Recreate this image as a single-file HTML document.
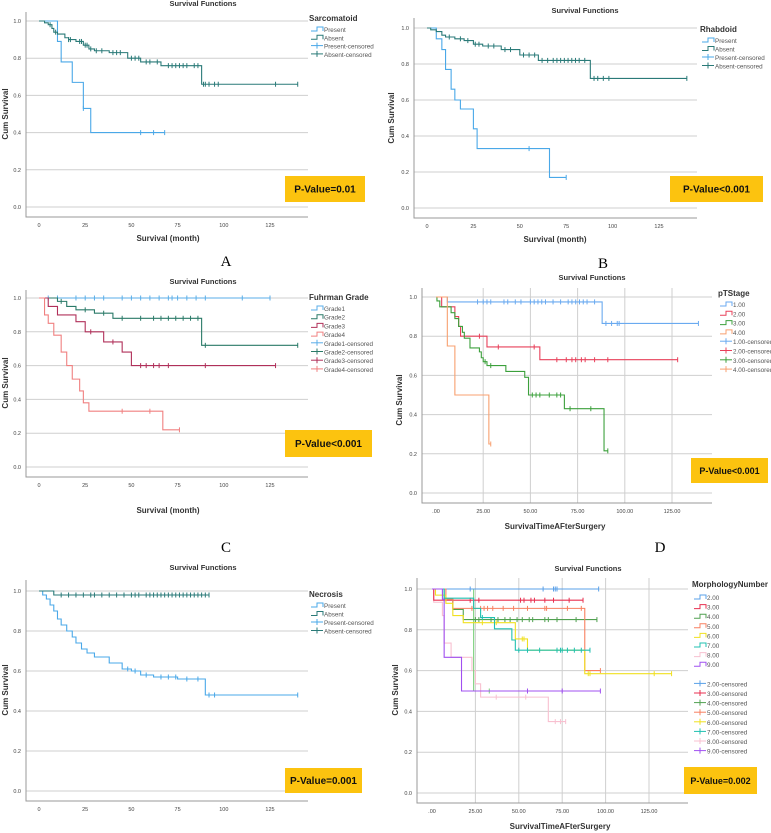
<!DOCTYPE html>
<html><head><meta charset="utf-8"><style>
body{margin:0;background:#fff}
svg{display:block;font-family:"Liberation Sans",sans-serif}
</style></head><body>
<svg id="fig" width="771" height="833" viewBox="0 0 771 833" xmlns="http://www.w3.org/2000/svg"></svg>
<script>
// ---------- data (step drop times, survival after each drop, censor times) ----------
const aPresentT=[10,12,18,24,28];
const aPresentS=[0.89,0.78,0.67,0.53,0.40];
const aPresentC=[24,55,62,68];
const aAbsentT=[3,5,7,8,10,14,16,20,24,27,30,38,48,55,66,88];
const aAbsentS=[0.99,0.98,0.96,0.94,0.93,0.91,0.90,0.89,0.87,0.85,0.84,0.83,0.80,0.78,0.76,0.66];
const aAbsentC=[6,9,16,17,22,23,25,26,28,31,34,40,42,44,50,52,54,58,60,64,70,72,74,76,78,80,84,86,89,90,92,95,97,128,140];

const bPresentT=[5,8,10,13,15,18,25,27,66];
const bPresentS=[0.94,0.88,0.77,0.66,0.60,0.55,0.44,0.33,0.17];
const bPresentC=[55,75];
const bAbsentT=[2,5,8,10,15,20,25,30,40,50,60,88];
const bAbsentS=[0.99,0.98,0.96,0.95,0.94,0.93,0.91,0.90,0.88,0.85,0.82,0.72];
const bAbsentC=[12,18,22,26,28,33,36,42,45,52,55,58,62,65,68,70,72,74,76,78,80,82,85,90,92,95,98,140];

const cG1T=[]; const cG1S=[]; const cG1C=[5,10,20,25,30,35,45,50,55,60,65,70,72,75,80,85,90,110,125];
const cG2T=[10,15,20,30,40,88]; const cG2S=[0.98,0.95,0.93,0.91,0.88,0.72];
const cG2C=[12,25,35,45,55,62,66,70,74,78,82,86,90,140];
const cG3T=[5,10,20,25,35,45,50]; const cG3S=[0.95,0.90,0.86,0.80,0.74,0.68,0.60];
const cG3C=[28,40,55,58,62,65,70,90,128];
const cG4T=[3,5,8,12,15,18,22,24,27,67]; const cG4S=[0.90,0.85,0.78,0.68,0.60,0.52,0.45,0.38,0.33,0.22];
const cG4C=[45,60,76];

const dT1T=[6,88]; const dT1S=[0.975,0.865];
const dT1C=[22,25,27,29,36,38,42,45,50,52,54,56,58,62,66,70,72,74,76,78,80,84,90,93,96,97,139];
const dT2T=[3,10,12,13,27,55]; const dT2S=[0.95,0.90,0.85,0.80,0.745,0.68];
const dT2C=[23,33,52,64,69,72,74,77,79,84,91,128];
const dT3T=[0.5,2,8,10,12,14,15,18,23,24,25,27,37,47,49,68,89];
const dT3S=[0.98,0.95,0.92,0.89,0.85,0.82,0.79,0.74,0.72,0.69,0.67,0.65,0.62,0.59,0.50,0.43,0.215];
const dT3C=[26,29,51,53,55,60,64,66,71,82,91];
const dT4T=[6,10,28]; const dT4S=[0.75,0.50,0.25];
const dT4C=[29];

const ePresentT=[2,4,6,8,10,12,15,18,20,23,26,30,38,45,50,55,62,75,90];
const ePresentS=[0.98,0.96,0.93,0.90,0.86,0.83,0.80,0.77,0.74,0.71,0.69,0.67,0.64,0.61,0.60,0.58,0.57,0.56,0.48];
const ePresentC=[48,52,58,66,70,74,80,86,92,95,140];
const eAbsentT=[8]; const eAbsentS=[0.98];
const eAbsentC=[12,16,20,24,28,30,34,38,42,46,50,52,54,58,60,62,64,66,68,70,72,74,76,78,80,82,84,86,88,90,92];

const f2T=[]; const f2S=[]; const f2C=[22,64,70,71,72,96];
const f3T=[1]; const f3S=[0.945]; const f3C=[22,27,51,53,57,59,65,70,79,87];
const f4T=[7,12,18]; const f4S=[0.95,0.90,0.85]; const f4C=[25,27,34,38,42,45,49,52,56,58,65,67,72,83,95];
const f4bT=[24]; const f4bS=[0.50]; const f4bC=[33];
const f5T=[8,12,88]; const f5S=[0.95,0.905,0.60]; const f5C=[23,28,30,32,35,41,47,55,65,66,78,86,97];
const f6T=[2,8,12,18,48,55,88]; const f6S=[0.97,0.93,0.87,0.835,0.755,0.70,0.585]; const f6C=[29,37,52,53,90,91,128,138];
const f7T=[7,24,28,36,46,48]; const f7S=[0.955,0.905,0.86,0.805,0.75,0.70]; const f7C=[29,50,55,62,72,74,75,78,82,86,91];
const f8T=[1,6,7,11,23,25,28,67]; const f8S=[0.935,0.87,0.735,0.665,0.60,0.535,0.47,0.35]; const f8C=[37,54,71,74,77];
const f9T=[6,7,17]; const f9S=[0.95,0.665,0.50]; const f9C=[55,75,97];

// ---------- drawing ----------
const NS='http://www.w3.org/2000/svg';
const svg=document.getElementById('fig');
function mk(tag,attrs,parent,text){
  const e=document.createElementNS(NS,tag);
  for(const k in attrs)e.setAttribute(k,attrs[k]);
  if(text!==undefined)e.textContent=text;
  (parent||svg).appendChild(e);return e;
}
function survAt(T,S,t){let s=1;for(let i=0;i<T.length;i++){if(T[i]<=t)s=S[i];}return s;}

function panel(cfg,series,legend){
  const g=mk('g',{});
  
  
  const X=t=>cfg.x0+t*(cfg.x125-cfg.x0)/125;
  const Y=s=>cfg.y0-s*(cfg.y0-cfg.y1);
  // grid
  for(let k=0;k<=5;k++){
    const v=k*0.2;
    const gl=mk('line',{x1:cfg.axL,x2:cfg.axR,y1:Y(v),y2:Y(v),stroke:'#cfcfcf','stroke-width':1},g);
    
    
    const tl=mk('text',{x:cfg.axL-5,y:Y(v)+2,'font-size':5.5,'text-anchor':'end',fill:'#444'},g,v.toFixed(1));
    
    
  }
  for(let k=0;k<=5;k++){
    const t=k*25;
    if(cfg.vgrid&&k>0){
      const vl=mk('line',{x1:X(t),x2:X(t),y1:cfg.axT,y2:cfg.axB,stroke:'#cfcfcf','stroke-width':1},g);
      
      
    }
    const xl=mk('text',{x:X(t),y:cfg.axB+10,'font-size':5.5,'text-anchor':'middle',fill:'#444'},g,cfg.dec?(k===0?'.00':t.toFixed(2)):String(t));
    
    
  }
  const ax=mk('path',{d:`M${cfg.axL} ${cfg.axT} V${cfg.axB} H${cfg.axR}`,fill:'none',stroke:'#999','stroke-width':1},g);
  
  
  // series
  series.forEach(sr=>{
    const [T,S,C,col,nm]=sr;
    const end=Math.max(C.length?Math.max(...C):0,T.length?T[T.length-1]:0);
    let d=`M${X(0)} ${Y(1)}`;
    for(let i=0;i<T.length;i++){d+=` H${X(T[i])} V${Y(S[i])}`;}
    d+=` H${X(end)}`;
    const p=mk('path',{d:d,fill:'none',stroke:col,'stroke-width':1.1},g);
    
    
    C.forEach(t=>{
      const y=Y(survAt(T,S,t));
      const c=mk('line',{x1:X(t),x2:X(t),y1:y-2.5,y2:y+2.5,stroke:col,'stroke-width':1},g);
      
      
    });
  });
  // texts
  const ti=mk('text',{x:cfg.tx,y:cfg.ty,'font-size':7.5,'font-weight':'bold','text-anchor':'middle',fill:'#333'},g,'Survival Functions');
  
  
  const xt=mk('text',{x:cfg.xlx,y:cfg.xly,'font-size':8,'font-weight':'bold','text-anchor':'middle',fill:'#333'},g,cfg.xlabel);
  
  
  const yt=mk('text',{x:0,y:0,'font-size':8,'font-weight':'bold','text-anchor':'middle',fill:'#333',transform:`translate(${cfg.ylx},${cfg.yly}) rotate(-90)`},g,'Cum Survival');
  
  
  const lt=mk('text',{x:cfg.lx,y:cfg.ly,'font-size':8,'font-weight':'bold',fill:'#333'},g,cfg.ltitle);
  
  
  legend.forEach((le,i)=>{
    const [label,col,cens]=le;
    const y=cfg.ly+cfg.l0+i*cfg.ls+(cfg.gapAfter!==undefined&&i>=cfg.gapAfter?cfg.gap:0);
    const lg=mk('g',{},g);
    
    
    if(cens){
      mk('line',{x1:cfg.lx+2,x2:cfg.lx+14,y1:y-2,y2:y-2,stroke:col,'stroke-width':1},lg);
      mk('line',{x1:cfg.lx+8,x2:cfg.lx+8,y1:y-5,y2:y+1,stroke:col,'stroke-width':1},lg);
    }else{
      mk('path',{d:`M${cfg.lx+2} ${y} H${cfg.lx+8} V${y-4} H${cfg.lx+14} V${y}`,fill:'none',stroke:col,'stroke-width':1},lg);
    }
    mk('text',{x:cfg.lx+15,y:y+1,'font-size':6.3,fill:'#555'},lg,label);
  });
  const pb=mk('rect',{x:cfg.px,y:cfg.py,width:cfg.pw,height:cfg.ph,fill:'#fcc30f'},g);
  
  
  const pt=mk('text',{x:cfg.px+cfg.pw/2,y:cfg.py+cfg.ph/2+3.5,'font-size':cfg.pf,'font-weight':'bold','text-anchor':'middle',fill:'#111'},g,cfg.ptext);
  
  
  const lt2=mk('text',{x:cfg.letx,y:cfg.lety,'font-size':15,'text-anchor':'middle',fill:'#000','font-family':'Liberation Serif, serif'},g,cfg.letter);
  
  
}

const blue='#4aa8e8', teal='#2a7a78';
panel({name:'panel-a',x0:39,x125:270,y1:21,y0:207,axL:26,axR:308,axT:12,axB:217,tx:203,ty:6,xlabel:'Survival (month)',xlx:168,xly:241,ylx:8,yly:114,
  ltitle:'Sarcomatoid',lx:309,ly:21,l0:10,ls:8.3,px:285,py:176,pw:80,ph:26,pf:10,ptext:'P-Value=0.01',letter:'A',letx:226,lety:266},
  [[aPresentT,aPresentS,aPresentC,blue,'present'],[aAbsentT,aAbsentS,aAbsentC,teal,'absent']],
  [['Present',blue,0],['Absent',teal,0],['Present-censored',blue,1],['Absent-censored',teal,1]]);

panel({name:'panel-b',x0:427,x125:659,y1:28,y0:208,axL:414,axR:697,axT:18,axB:218,tx:585,ty:13,xlabel:'Survival (month)',xlx:555,xly:242,ylx:394,yly:118,
  ltitle:'Rhabdoid',lx:700,ly:32,l0:10,ls:8.5,px:670,py:176,pw:93,ph:26,pf:10,ptext:'P-Value<0.001',letter:'B',letx:603,lety:268},
  [[bPresentT,bPresentS,bPresentC,blue,'present'],[bAbsentT,bAbsentS,bAbsentC,teal,'absent']],
  [['Present',blue,0],['Absent',teal,0],['Present-censored',blue,1],['Absent-censored',teal,1]]);

const g1='#5aaee8',g2='#2a7a68',g3='#b0305a',g4='#f08080';
panel({name:'panel-c',x0:39,x125:270,y1:298,y0:467,axL:26,axR:308,axT:290,axB:477,tx:203,ty:284,xlabel:'Survival (month)',xlx:168,xly:513,ylx:8,yly:383,
  ltitle:'Fuhrman Grade',lx:309,ly:300,l0:10,ls:8.7,px:285,py:430,pw:87,ph:27,pf:10,ptext:'P-Value<0.001',letter:'C',letx:226,lety:552},
  [[cG1T,cG1S,cG1C,g1,'grade1'],[cG2T,cG2S,cG2C,g2,'grade2'],[cG3T,cG3S,cG3C,g3,'grade3'],[cG4T,cG4S,cG4C,g4,'grade4']],
  [['Grade1',g1,0],['Grade2',g2,0],['Grade3',g3,0],['Grade4',g4,0],['Grade1-censored',g1,1],['Grade2-censored',g2,1],['Grade3-censored',g3,1],['Grade4-censored',g4,1]]);

const p1='#6aaaf0',p2='#e8405a',p3='#3ca03c',p4='#f8a070';
panel({name:'panel-d',x0:436,x125:672,y1:297,y0:493,axL:422,axR:712,axT:288,axB:503,vgrid:1,dec:1,tx:592,ty:280,xlabel:'SurvivalTimeAFterSurgery',xlx:555,xly:529,ylx:402,yly:400,
  ltitle:'pTStage',lx:718,ly:296,l0:10,ls:9.3,px:691,py:458,pw:77,ph:25,pf:9,ptext:'P-Value<0.001',letter:'D',letx:660,lety:552},
  [[dT1T,dT1S,dT1C,p1,'pt1'],[dT2T,dT2S,dT2C,p2,'pt2'],[dT3T,dT3S,dT3C,p3,'pt3'],[dT4T,dT4S,dT4C,p4,'pt4']],
  [['1.00',p1,0],['2.00',p2,0],['3.00',p3,0],['4.00',p4,0],['1.00-censored',p1,1],['2.00-censored',p2,1],['3.00-censored',p3,1],['4.00-censored',p4,1]]);

panel({name:'panel-e',x0:39,x125:270,y1:591,y0:791,axL:26,axR:308,axT:580,axB:801,tx:203,ty:570,xlabel:'Survival (month)',xlx:168,xly:840,ylx:8,yly:690,
  ltitle:'Necrosis',lx:309,ly:597,l0:10,ls:8.5,px:285,py:768,pw:77,ph:25,pf:10,ptext:'P-Value=0.001',letter:'E',letx:226,lety:860},
  [[ePresentT,ePresentS,ePresentC,blue,'present'],[eAbsentT,eAbsentS,eAbsentC,teal,'absent']],
  [['Present',blue,0],['Absent',teal,0],['Present-censored',blue,1],['Absent-censored',teal,1]]);

const c2='#5aa0e8',c3='#e83050',c4='#50a050',c5='#f88060',c6='#f0e020',c7='#20c0b0',c8='#f8c0d0',c9='#a050f0';
panel({name:'panel-f',x0:432,x125:649,y1:589,y0:793,axL:417,axR:688,axT:578,axB:803,vgrid:1,dec:1,tx:588,ty:571,xlabel:'SurvivalTimeAFterSurgery',xlx:560,xly:829,ylx:398,yly:690,
  ltitle:'MorphologyNumber',lx:692,ly:587,l0:12,ls:9.6,gapAfter:8,gap:9.6,px:684,py:767,pw:73,ph:27,pf:9,ptext:'P-Value=0.002',letter:'F',letx:660,lety:860},
  [[f8T,f8S,f8C,c8,'m8'],[f4bT,f4bS,f4bC,'#7ad07a','m4b'],[f2T,f2S,f2C,c2,'m2'],[f3T,f3S,f3C,c3,'m3'],[f4T,f4S,f4C,c4,'m4'],[f5T,f5S,f5C,c5,'m5'],[f6T,f6S,f6C,c6,'m6'],[f7T,f7S,f7C,c7,'m7'],[f9T,f9S,f9C,c9,'m9']],
  [['2.00',c2,0],['3.00',c3,0],['4.00',c4,0],['5.00',c5,0],['6.00',c6,0],['7.00',c7,0],['8.00',c8,0],['9.00',c9,0],
   ['2.00-censored',c2,1],['3.00-censored',c3,1],['4.00-censored',c4,1],['5.00-censored',c5,1],['6.00-censored',c6,1],['7.00-censored',c7,1],['8.00-censored',c8,1],['9.00-censored',c9,1]]);
</script>
</body></html>
